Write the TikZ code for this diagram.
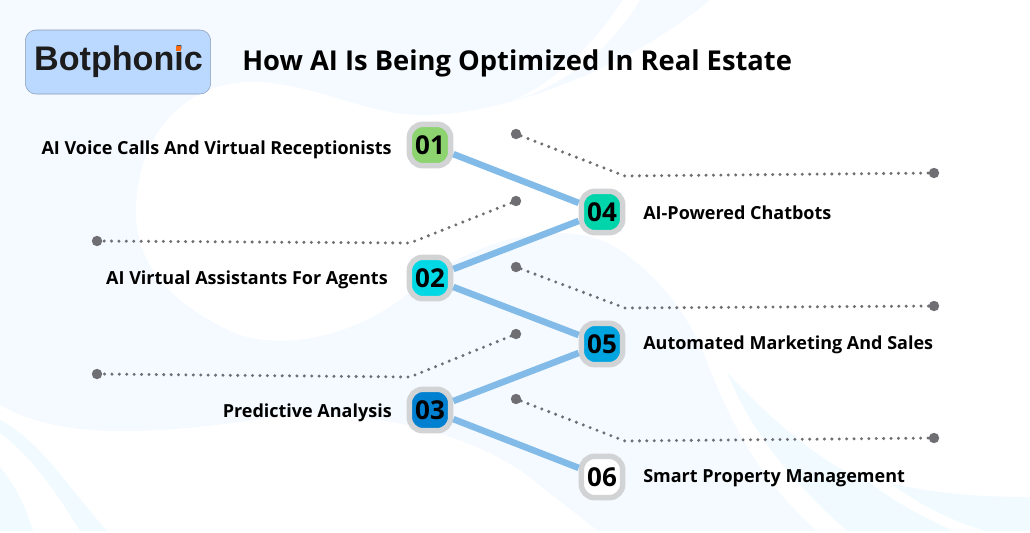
\documentclass[tikz,border=0pt]{standalone}
\usepackage{fontspec}
\setmainfont{Open Sans}
\newfontfamily\logofont{Liberation Sans}
\definecolor{wash}{HTML}{F4FAFF}
\definecolor{washcyan}{HTML}{F1FBFF}
\definecolor{wire}{HTML}{82BBE8}
\definecolor{dotgray}{HTML}{6E6E73}
\definecolor{ring}{HTML}{D2D3D5}
\definecolor{logofill}{HTML}{BBD9FF}
\definecolor{logoedge}{HTML}{8A9BB5}
\definecolor{logoink}{HTML}{1C1C1C}
\definecolor{logodot}{HTML}{FF6A13}
\definecolor{tone1}{HTML}{8DD36F}
\definecolor{tone2}{HTML}{00D8E5}
\definecolor{tone3}{HTML}{0080D0}
\definecolor{tone4}{HTML}{00D4AA}
\definecolor{tone5}{HTML}{00A5E0}
\begin{document}
\begin{tikzpicture}[
    x=0.75pt, y=-0.75pt,
    numbox/.style={draw=ring, line width=4.1pt, rounded corners=10pt, minimum size=31pt, inner sep=0pt, font=\fontsize{19.5}{20}\selectfont\bfseries, text=black},
    label/.style={font=\fontsize{13.5}{15}\selectfont\bfseries, text=black, inner sep=0pt, text height=0.75em, text depth=0.25em},
    wirelink/.style={wire, line width=4.9pt},
    leader/.style={dotgray, line width=2.5pt, dash pattern=on 0pt off 5.55pt, line cap=round},
    enddot/.style={circle, fill=dotgray, minimum size=7.8pt, inner sep=0pt}
]
\useasboundingbox (0,0) rectangle (1030,532);

% Background
\fill[white] (0,0) rectangle (1030,532);
\fill[wash] (0,0) rectangle (1030,531);
\fill[white] (136,213) .. controls (136,130) and (190,80) .. (255,82) .. controls (320,84) and (370,118) .. (430,115)
    .. controls (520,112) and (640,60) .. (710,0) -- (1030,0) -- (1030,531)
    -- (817,531) .. controls (760,480) and (735,430) .. (710,370) .. controls (690,310) and (650,270) .. (620,250)
    .. controls (570,215) and (470,235) .. (400,300) .. controls (350,335) and (290,350) .. (240,335)
    .. controls (180,310) and (136,270) .. (136,213) -- cycle;
\fill[white] (0,405) .. controls (60,440) and (150,435) .. (270,418) .. controls (350,408) and (450,425) .. (520,470)
    -- (598,531) -- (0,531) -- cycle;
\fill[white] (623,0) .. controls (590,50) and (550,85) .. (510,102) .. controls (565,85) and (610,50) .. (640,0) -- cycle;

% Pale bands
\fill[washcyan] (0,420) .. controls (40,440) and (70,490) .. (107,531) -- (80,531) .. controls (55,490) and (30,455) .. (0,433) -- cycle;
\fill[washcyan] (0,467) .. controls (15,485) and (25,505) .. (33,531) -- (0,531) -- cycle;
\fill[washcyan] (727,372) .. controls (770,420) and (830,470) .. (867,480) .. controls (890,500) and (920,515) .. (953,531)
    -- (847,531) .. controls (790,480) and (750,430) .. (727,372) -- cycle;
\fill[washcyan] (890,483) .. controls (940,495) and (990,497) .. (1030,497) -- (1030,531) -- (985,531) .. controls (950,520) and (920,505) .. (890,483) -- cycle;

% Logo and title
\node[draw=logoedge, fill=logofill, rounded corners=8pt, minimum width=139pt, minimum height=48pt, inner sep=0pt] (logo) at (118,62) {};
\node[font=\logofont\fontsize{25.6}{26}\selectfont\bfseries, text=logoink, inner sep=0pt] (brand) at (118.5,62) {Botphonic};
\node[fill=logodot, minimum size=4pt, inner sep=0pt] (idot) at (178.5,48.5) {};
\node[font=\fontsize{20.5}{24}\selectfont\bfseries, text=black, anchor=west, inner sep=0pt] (title) at (242,63) {How AI Is Being Optimized In Real Estate};

% Number boxes
\node[numbox, fill=tone1] (n1) at (430,145) {01};
\node[numbox, fill=tone2] (n2) at (430,278) {02};
\node[numbox, fill=tone3] (n3) at (430,410) {03};
\node[numbox, fill=tone4] (n4) at (602,212) {04};
\node[numbox, fill=tone5] (n5) at (602,344) {05};
\node[numbox, fill=white] (n6) at (602,477) {06};

\draw[wirelink] (n1) -- (n4);
\draw[wirelink] (n2) -- (n4);
\draw[wirelink] (n2) -- (n5);
\draw[wirelink] (n3) -- (n5);
\draw[wirelink] (n3) -- (n6);

% Labels
\node[label, anchor=east] (t1) at (392,151.5) {AI Voice Calls And Virtual Receptionists};
\node[label, anchor=east] (t2) at (388,281.5) {AI Virtual Assistants For Agents};
\node[label, anchor=east] (t3) at (392,414.5) {Predictive Analysis};
\node[label, anchor=west] (t4) at (643,216.5) {AI-Powered Chatbots};
\node[label, anchor=west] (t5) at (643,346.5) {Automated Marketing And Sales};
\node[label, anchor=west] (t6) at (643,479.5) {Smart Property Management};

% Dotted leaders
\node[enddot] (a1) at (516,134) {};
\coordinate (k1) at (625,176);
\node[enddot] (b1) at (934,173) {};
\draw[leader] (a1) -- (k1) -- (b1);

\node[enddot] (a2) at (516,201) {};
\coordinate (k2) at (410,243);
\node[enddot] (b2) at (97,241) {};
\draw[leader] (a2) -- (k2) -- (b2);

\node[enddot] (a3) at (516,267) {};
\coordinate (k3) at (625,308);
\node[enddot] (b3) at (934,306) {};
\draw[leader] (a3) -- (k3) -- (b3);

\node[enddot] (a4) at (516,334) {};
\coordinate (k4) at (410,377);
\node[enddot] (b4) at (97,374) {};
\draw[leader] (a4) -- (k4) -- (b4);

\node[enddot] (a5) at (516,399) {};
\coordinate (k5) at (625,441);
\node[enddot] (b5) at (934,438) {};
\draw[leader] (a5) -- (k5) -- (b5);

\end{tikzpicture}
\end{document}
